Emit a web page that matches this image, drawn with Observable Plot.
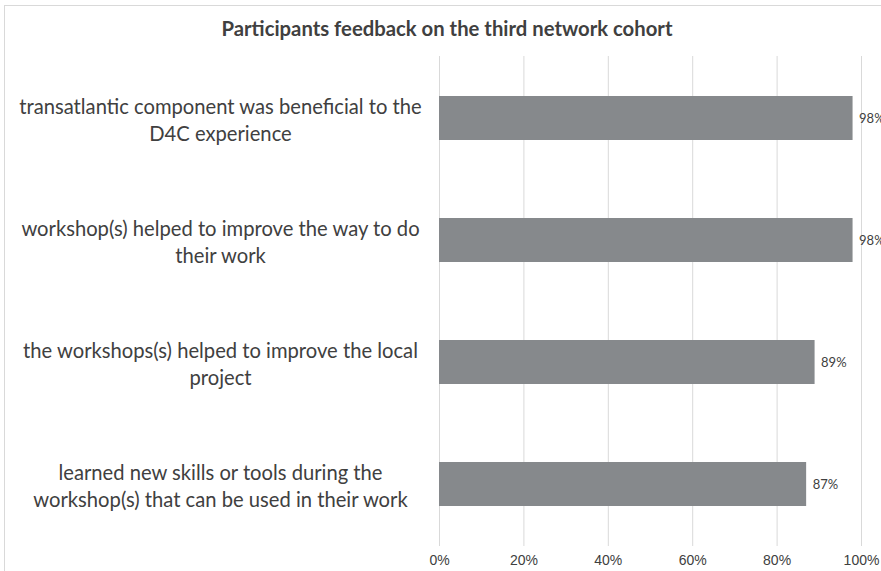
<!DOCTYPE html>
<html>
<head>
<meta charset="utf-8">
<script src="https://cdn.jsdelivr.net/npm/d3@7"></script>
<script src="https://cdn.jsdelivr.net/npm/@observablehq/plot@0.6"></script>
<style>
  html, body { margin: 0; padding: 0; background: #fff; }
  #wrap { position: relative; width: 881px; height: 571px; overflow: hidden; background: #fff; }
  #border { position: absolute; left: 4px; top: 5px; width: 900px; height: 600px; border: 1.5px solid #d9d9d9; box-sizing: border-box; }
  #title { position: absolute; left: 0; width: 894px; top: 16px; text-align: center;
           font-family: Lato, "Open Sans", sans-serif; font-weight: bold; font-size: 20.3px; color: #404040; }
  #chart { position: absolute; left: 0; top: 0; }
</style>
</head>
<body>
<div id="wrap">
  <div id="border"></div>
  <div id="chart"></div>
  <div id="title">Participants feedback on the third network cohort</div>
</div>
<script>
const titleText = "Participants feedback on the third network cohort";
const categories = [
  "transatlantic component was beneficial to the\nD4C experience",
  "workshop(s) helped to improve the way to do\ntheir work",
  "the workshops(s) helped to improve the local\nproject",
  "learned new skills or tools during the\nworkshop(s) that can be used in their work"
];
const values = [0.98, 0.98, 0.89, 0.87];
const valueLabels = ["98%", "98%", "89%", "87%"];
const xTicks = [0, 0.2, 0.4, 0.6, 0.8, 1.0];
const xTickLabels = ["0%", "20%", "40%", "60%", "80%", "100%"];

const data = categories.map((c, i) => ({category: c, value: values[i], label: valueLabels[i]}));

const plot = Plot.plot({
  width: 881,
  height: 571,
  marginLeft: 439,
  marginRight: 20,
  marginTop: 56,
  marginBottom: 25,
  style: {background: "transparent", overflow: "visible"},
  x: {domain: [0, 1], ticks: xTicks, axis: null},
  y: {domain: categories, paddingInner: 0.64, paddingOuter: 0.32, axis: null},
  marks: [
    Plot.ruleX(xTicks, {x: d => d, stroke: "#d9d9d9", strokeWidth: 1}),
    Plot.axisX({
      ticks: xTicks, tickSize: 0, tickPadding: 9,
      tickFormat: (d) => xTickLabels[xTicks.indexOf(d)],
      fontSize: 14, fontFamily: "'Liberation Sans', Arial, sans-serif", fill: "#404040",
      label: null
    }),
    Plot.barX(data, {x: "value", y: "category", fill: "#86898c"}),
    Plot.text(data, {
      x: "value", y: "category", text: "label", textAnchor: "start", dx: 6,
      fontSize: 13, fontFamily: "Lato, 'Open Sans', sans-serif", fill: "#404040"
    }),
    Plot.text(data, {
      y: "category", text: "category", frameAnchor: "left", textAnchor: "middle", dx: -219,
      lineHeight: 1.34, fontSize: 20.2, fontFamily: "Lato, 'Open Sans', sans-serif", fill: "#404040"
    })
  ]
});
document.getElementById("chart").appendChild(plot);
</script>
</body>
</html>
